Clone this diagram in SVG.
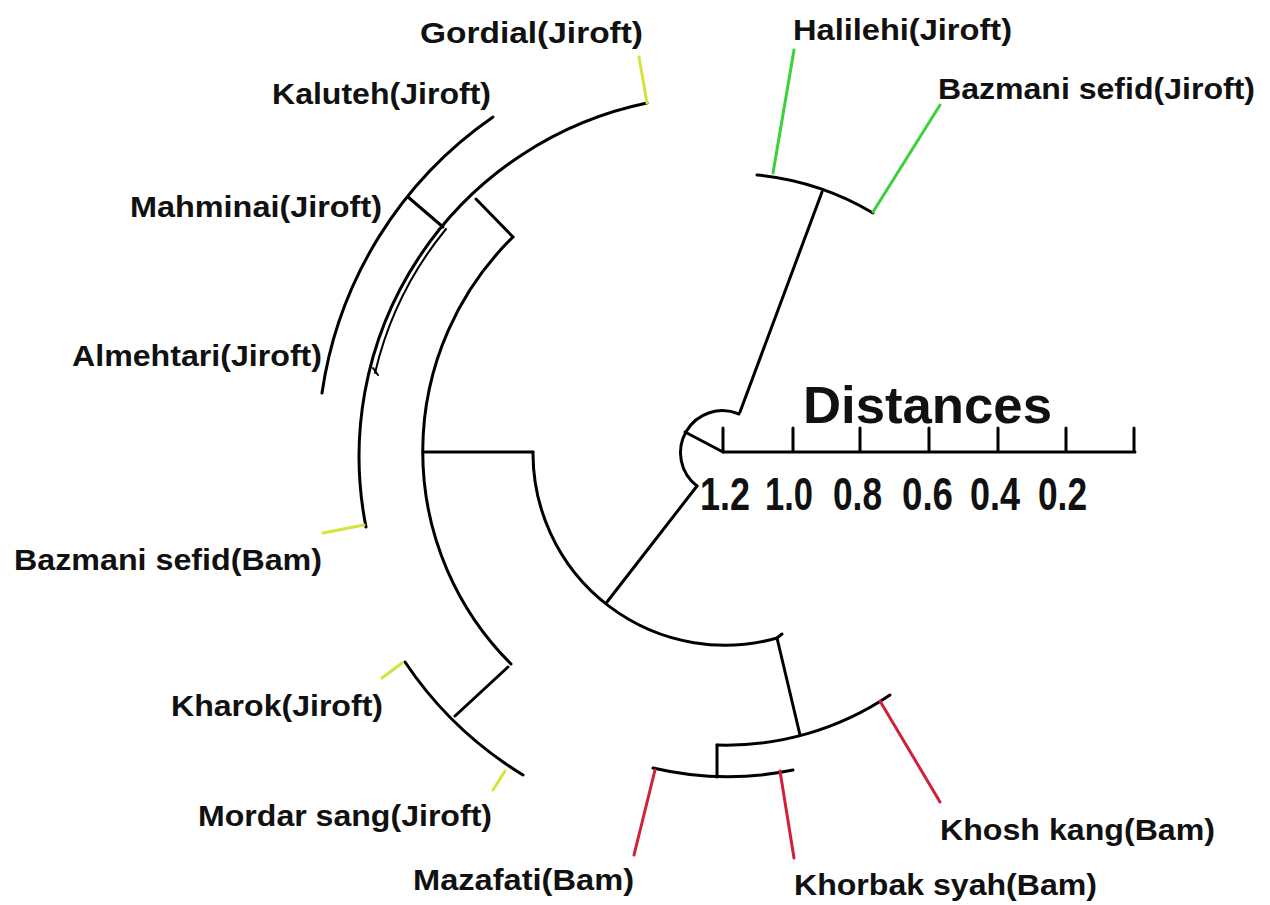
<svg xmlns="http://www.w3.org/2000/svg" width="1270" height="905" viewBox="0 0 1270 905">
<style>
.ln{fill:none;stroke:#000;stroke-width:3;stroke-linecap:round;stroke-linejoin:round}
.yl{fill:none;stroke:#d4e43c;stroke-width:3;stroke-linecap:round}
.gr{fill:none;stroke:#3ad13a;stroke-width:3;stroke-linecap:round}
.rd{fill:none;stroke:#d0203a;stroke-width:3;stroke-linecap:round}
.lb{font-family:"Liberation Sans",Arial,sans-serif;font-weight:bold;font-size:30px;fill:#111}
.sc{font-family:"Liberation Sans",Arial,sans-serif;font-weight:bold;font-size:46px;fill:#111}
</style>
<rect width="1270" height="905" fill="#fff"/>
<g id="connectors">
<path class="ln" d="M739 414 A42 42 0 0 0 697 486"/>
<path class="ln" d="M740 412 L822 192"/>
<path class="ln" d="M685 432 L723 452"/>
<path class="ln" d="M697 486 L607 602"/>
<path class="ln" d="M533 452 A192 192 0 0 0 777 638 L782 634"/>
<path class="ln" d="M423 452 L533 452"/>
<path class="ln" d="M511 664 A300 300 0 0 1 513 237"/>
<path class="ln" d="M513 237 L476 199"/>
<path class="ln" d="M508 667 L455 716"/>
<path class="ln" d="M523 775 A380 380 0 0 1 405 662"/>
<path class="ln" d="M366 527 A361 361 0 0 1 647 103"/>
<path class="ln" style="stroke-width:2" d="M375 373 A355 355 0 0 1 446 229"/>
<path class="ln" style="stroke-width:2" d="M373 368 L378 375"/>
<path class="ln" d="M322 393 A406 406 0 0 1 493 117"/>
<path class="ln" d="M408 197 L443 227"/>
<path class="ln" d="M757 175 A282 282 0 0 1 873 213"/>
<path class="ln" d="M777 638 L800 735"/>
<path class="ln" d="M890 695 A293 293 0 0 1 717 745"/>
<path class="ln" d="M717 745 L717 777"/>
<path class="ln" d="M793 770 A325 325 0 0 1 653 768"/>
</g>
<g id="scale">
<path class="ln" d="M723 452 L1135 452 M723 428 L723 452 M793 428 L793 452 M860 428 L860 452 M929 428 L929 452 M998 428 L998 452 M1066 428 L1066 452 M1134 428 L1134 452"/>
<text class="sc" style="font-size:52px" x="803" y="423" textLength="249" lengthAdjust="spacingAndGlyphs">Distances</text>
<text class="sc" x="700" y="510" textLength="50" lengthAdjust="spacingAndGlyphs">1.2</text>
<text class="sc" x="765" y="510" textLength="48" lengthAdjust="spacingAndGlyphs">1.0</text>
<text class="sc" x="833" y="510" textLength="49" lengthAdjust="spacingAndGlyphs">0.8</text>
<text class="sc" x="902" y="510" textLength="51" lengthAdjust="spacingAndGlyphs">0.6</text>
<text class="sc" x="970" y="510" textLength="50" lengthAdjust="spacingAndGlyphs">0.4</text>
<text class="sc" x="1038" y="510" textLength="49" lengthAdjust="spacingAndGlyphs">0.2</text>
</g>
<g id="node-gordial"><path class="yl" d="M647 103 L639 57"/><text class="lb" x="420" y="43" textLength="223" lengthAdjust="spacingAndGlyphs">Gordial(Jiroft)</text></g>
<g id="node-kaluteh"><text class="lb" x="272" y="104" textLength="219" lengthAdjust="spacingAndGlyphs">Kaluteh(Jiroft)</text></g>
<g id="node-mahminai"><text class="lb" x="130" y="217" textLength="252" lengthAdjust="spacingAndGlyphs">Mahminai(Jiroft)</text></g>
<g id="node-almehtari"><text class="lb" x="72" y="366" textLength="250" lengthAdjust="spacingAndGlyphs">Almehtari(Jiroft)</text></g>
<g id="node-bazmani-bam"><path class="yl" d="M364 525 L323 533"/><text class="lb" x="14" y="570" textLength="308" lengthAdjust="spacingAndGlyphs">Bazmani sefid(Bam)</text></g>
<g id="node-kharok"><path class="yl" d="M402 663 L382 678"/><text class="lb" x="171" y="716" textLength="212" lengthAdjust="spacingAndGlyphs">Kharok(Jiroft)</text></g>
<g id="node-mordar"><path class="yl" d="M505 771 L493 790"/><text class="lb" x="198" y="826" textLength="294" lengthAdjust="spacingAndGlyphs">Mordar sang(Jiroft)</text></g>
<g id="node-mazafati"><path class="rd" d="M655 770 L634 855"/><text class="lb" x="413" y="890" textLength="221" lengthAdjust="spacingAndGlyphs">Mazafati(Bam)</text></g>
<g id="node-khorbak"><path class="rd" d="M780 771 L794 858"/><text class="lb" x="794" y="895" textLength="303" lengthAdjust="spacingAndGlyphs">Khorbak syah(Bam)</text></g>
<g id="node-khosh"><path class="rd" d="M880 701 L940 802"/><text class="lb" x="940" y="840" textLength="275" lengthAdjust="spacingAndGlyphs">Khosh kang(Bam)</text></g>
<g id="node-halilehi"><path class="gr" d="M773 173 L794 50"/><text class="lb" x="793" y="40" textLength="219" lengthAdjust="spacingAndGlyphs">Halilehi(Jiroft)</text></g>
<g id="node-bazmani-jiroft"><path class="gr" d="M873 212 L940 105"/><text class="lb" x="938" y="99" textLength="317" lengthAdjust="spacingAndGlyphs">Bazmani sefid(Jiroft)</text></g>
</svg>
